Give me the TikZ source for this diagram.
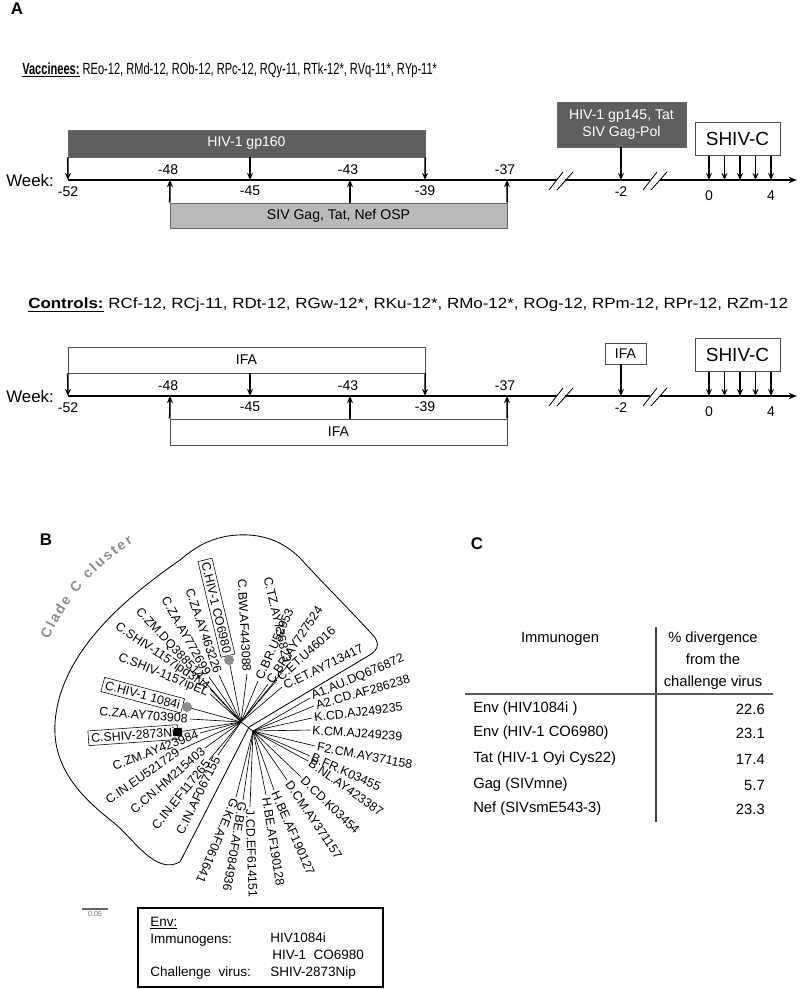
\documentclass[tikz,border=0pt]{standalone}
\usepackage{fontspec}
\setmainfont{Liberation Sans}
\usetikzlibrary{positioning,arrows.meta,calc,decorations.text}
\newlength\px
\setlength\px{0.025cm}
\definecolor{boxdark}{HTML}{5E5E5E}
\definecolor{boxlight}{HTML}{B9B9B9}
\definecolor{dotgray}{HTML}{8C8C8C}

\begin{document}
\begin{tikzpicture}[x=\px, y=-\px,
        % Style for the timelines
        axisline/.style={line width=1.3pt},
        dose/.style={-{Stealth[length=5pt,width=4.2pt]}, line width=1.1pt},
        brk/.style={line width=0.6pt},
        wk/.style={font=\fontsize{10}{12}\selectfont, inner sep=0pt},
        % Style for the immunogen boxes
        darkbox/.style={draw=black!60, fill=boxdark, text=white,
            font=\fontsize{10}{12}\selectfont, inner sep=0pt, align=center},
        lightbox/.style={draw=black!60, fill=boxlight,
            font=\fontsize{10}{12}\selectfont, inner sep=0pt},
        whitebox/.style={draw=black!70, fill=white,
            font=\fontsize{10}{12}\selectfont, inner sep=0pt},
        shivbox/.style={draw=black!70, fill=white, font=\fontsize{13.5}{15}\selectfont,
            inner sep=0pt, minimum width=85*\px, minimum height=33*\px},
        % Style for the tree
        branch/.style={line width=0.45pt},
        leafL/.style={anchor=east, inner sep=1.5pt, font=\fontsize{8.8}{9}\selectfont},
        leafR/.style={anchor=west, inner sep=1.5pt, font=\fontsize{8.8}{9}\selectfont},
        tabfont/.style={font=\fontsize{10.5}{15.6}\selectfont, inner sep=0pt},
        legfont/.style={font=\fontsize{9.6}{11}\selectfont, inner sep=0pt, anchor=west},
        panel/.style={font=\fontsize{12}{14}\selectfont\bfseries, inner sep=0pt}
    ]
    \useasboundingbox (0,0) rectangle (800,989);

    % PANEL LETTERS
    \node[panel] (pA) at (17,9) {A};
    \node[panel] (pB) at (46,540) {B};
    \node[panel] (pC) at (477,544) {C};

    % GROUP TITLES
    \node[anchor=west, inner sep=0pt, font=\fontsize{11.5}{13}\selectfont] (vacc) at (22,70)
        {\scalebox{0.685}[1]{\textbf{\underline{Vaccinees:}} REo-12, RMd-12, ROb-12, RPc-12, RQy-11, RTk-12*, RVq-11*, RYp-11*}};
    \node[anchor=west, inner sep=0pt, font=\fontsize{10.5}{12}\selectfont] (ctrl) at (28,305)
        {\scalebox{1.148}[1]{\textbf{\underline{Controls:}} RCf-12, RCj-11, RDt-12, RGw-12*, RKu-12*, RMo-12*, ROg-12, RPm-12, RPr-12, RZm-12}};

    % TIMELINES: AXIS, WEEKS, BREAKS, CHALLENGE
    \foreach \t/\y in {v/180, c/396} {
        \node[anchor=west, inner sep=0pt, font=\fontsize{12}{14}\selectfont] (\t week) at (6,\y) {Week:};
        \coordinate (\t52) at (68,\y);
        \coordinate (\t48) at (170,\y);
        \coordinate (\t45) at (250,\y);
        \coordinate (\t43) at (350,\y);
        \coordinate (\t39) at (425,\y);
        \coordinate (\t37) at (507,\y);
        \coordinate (\t2) at (621,\y);
        \coordinate (\t b1) at (557,\y);
        \coordinate (\t b2) at (565,\y);
        \coordinate (\t b3) at (650,\y);
        \coordinate (\t b4) at (660,\y);
        \coordinate (\t end) at (797,\y);
        \draw[axisline] (\t52) -- (\t b1);
        \draw[axisline] (\t b2) -- (\t b3);
        \draw[axisline, -{Stealth[length=6pt,width=4.5pt]}] (\t b4) -- (\t end);
        % break marks
        \draw[brk] ($(\t b1)+(-8,10)$) -- ($(\t b1)+(6,-8)$);
        \draw[brk] ($(\t b1)+(0,10)$) -- ($(\t b1)+(16,-8)$);
        \draw[brk] ($(\t b3)+(-7,10)$) -- ($(\t b3)+(7,-8)$);
        \draw[brk] ($(\t b3)+(1,10)$) -- ($(\t b3)+(17,-8)$);
        % week labels
        \node[wk] (\t l52) at ($(\t52)+(0,12)$) {-52};
        \node[wk] (\t l45) at ($(\t45)+(0,11)$) {-45};
        \node[wk] (\t l39) at ($(\t39)+(0,11)$) {-39};
        \node[wk] (\t l48) at ($(\t48)+(-2,-10)$) {-48};
        \node[wk] (\t l43) at ($(\t43)+(-2,-10)$) {-43};
        \node[wk] (\t l37) at ($(\t37)+(-2,-10)$) {-37};
        \node[wk] (\t l2) at ($(\t2)+(0,12)$) {-2};
        % SHIV-C challenge
        \node[shivbox] (\t shiv) at (737.5,\y-41) {SHIV-C};
        \foreach \k/\xx in {0/709, 1/724.5, 2/740, 3/755.5, 4/771} {
            \coordinate (\t c\k) at (\xx,\y);
            \draw[dose] (\t shiv.south -| \t c\k) -- (\t c\k);
        }
        \node[wk] (\t l0) at ($(\t c0)+(0,16)$) {0};
        \node[wk] (\t l4) at ($(\t c4)+(0,16)$) {4};
    }

    % VACCINEES: IMMUNOGENS
    \node[darkbox, minimum width=357*\px, minimum height=27*\px] (gp160) at (246.5,143.5) {HIV-1 gp160};
    \node[lightbox, minimum width=337*\px, minimum height=25*\px] (siv) at (338.5,215.5) {SIV Gag, Tat, Nef OSP};
    \node[darkbox, minimum width=129*\px, minimum height=45*\px] (gp145) at (621.5,124.5) {HIV-1 gp145, Tat\\SIV Gag-Pol};
    \draw[dose] (gp160.south west) -- (v52);
    \draw[dose] (gp160.south -| v45) -- (v45);
    \draw[dose] (gp160.south east) -- (v39);
    \draw[dose] (siv.north west) -- (v48);
    \draw[dose] (siv.north -| v43) -- (v43);
    \draw[dose] (siv.north east) -- (v37);
    \draw[dose] (gp145.south -| v2) -- (v2);

    % CONTROLS: ADJUVANT ONLY
    \node[whitebox, minimum width=357*\px, minimum height=26*\px] (ifa1) at (246.5,360) {IFA};
    \node[whitebox, minimum width=337*\px, minimum height=26*\px] (ifa2) at (338.5,432) {IFA};
    \node[whitebox, minimum width=41*\px, minimum height=21*\px] (ifa3) at (625.5,353.5) {IFA};
    \draw[dose] (ifa1.south west) -- (c52);
    \draw[dose] (ifa1.south -| c45) -- (c45);
    \draw[dose] (ifa1.south east) -- (c39);
    \draw[dose] (ifa2.north west) -- (c48);
    \draw[dose] (ifa2.north -| c43) -- (c43);
    \draw[dose] (ifa2.north east) -- (c37);
    \draw[dose] (ifa3.south -| c2) -- (c2);

    % PANEL B: PHYLOGENETIC TREE
    \coordinate (hubL) at (241,722);
    \coordinate (hubR) at (253,731);
    \draw[branch] (hubL) -- (hubR);
    % clade C cluster outline
    \draw[line width=0.6pt] (249,727) -- (368,656)
        .. controls (381,649) and (379,641) .. (371,633)
        .. controls (345,605) and (320,580) .. (300,558)
        .. controls (280,538) and (255,532) .. (228,536)
        .. controls (205,540) and (192,550) .. (180,560)
        .. controls (130,595) and (60,650) .. (55,723)
        .. controls (52,770) and (85,800) .. (113,822)
        .. controls (135,840) and (155,875) .. (180,862) -- cycle;
    \path[decorate, decoration={text along path, text align=fit to path,
        text={|\fontsize{10}{10}\selectfont\bfseries\color{black!45}|Clade C cluster}}]
        (49,640) arc[start angle=-157, end angle=-121, radius=208];
    % clade C leaves, read towards the centre
    \foreach \n/\tx/\ty/\r/\lab in {
        za46/219/675/-71/C.ZA.AY463226,
        za77/209/677/-61/C.ZA.AY772699,
        zmdq/203/680/-47/C.ZM.DQ388514,
        s3n/210/689/-34/C.SHIV-1157ipd3N4,
        sel/210/694/-22/C.SHIV-1157ipEL,
        za70/190/719/-5/C.ZA.AY703908,
        zm42/200/733/21/C.ZM.AY423984,
        ineu/180/750/35/C.IN.EU521729,
        cnhm/205/748/41/C.CN.HM215403,
        inef/209/760/51/C.IN.EF117265,
        inaf/218/755/64/C.IN.AF067155,
        bw/247/674/-87/C.BW.AF443088,
        tz/288/665/-77/C.TZ.AY736823} {
        \coordinate (t\n) at (\tx,\ty);
        \draw[branch] (hubL) -- (t\n);
        \node[leafL, rotate=\r] (l\n) at (t\n) {\lab};
    }
    % clade C leaves, read outwards
    \foreach \n/\tx/\ty/\r/\lab in {
        bru/258/681/66/C.BR.U52953,
        bray/268/684/56/C.BR.AY727524,
        etu/277/680/42/C.ET.U46016,
        etay/282/687/26/C.ET.AY713417} {
        \coordinate (t\n) at (\tx,\ty);
        \draw[branch] (hubL) -- (t\n);
        \node[leafR, rotate=\r] (l\n) at (t\n) {\lab};
    }
    % other clades
    \foreach \n/\tx/\ty/\r/\lab in {
        aau/310/698/23/A1.AU.DQ676872,
        acd/314/706/16/A2.CD.AF286238,
        kcd/312/718/7/K.CD.AJ249235,
        kcm/310/730/-4/K.CM.AJ249239,
        fcm/315/746/-11/F2.CM.AY371158,
        bfr/310/756/-24/B.FR.K03455,
        bnl/308/761/-35/B.NL.AY423387,
        dcd/301/777/-44/D.CD.K03454,
        dcm/287/780/-56/D.CM.AY371157,
        hbe/274/790/-66/H.BE.AF190127,
        hbf/266/795/-81/H.BE.AF190128,
        jcd/250/807/-88/J.CD.EF614151,
        gbe/243/800/-100/G.BE.AF084936,
        gke/236/797/-113/G.KE.AF061641} {
        \coordinate (t\n) at (\tx,\ty);
        \draw[branch] (hubR) -- (t\n);
        \node[leafR, rotate=\r] (l\n) at (t\n) {\lab};
    }
    % immunogens (grey dots) and challenge virus (black square)
    \coordinate (tco) at (229,660);
    \coordinate (thiv) at (187,707);
    \coordinate (tshiv) at (178,732);
    \draw[branch] (hubL) -- (tco);
    \draw[branch] (hubL) -- (thiv);
    \draw[branch] (hubL) -- (tshiv);
    \node[leafL, draw, rotate=-76.5, inner sep=2pt, xshift=-3pt] (lco) at (tco) {C.HIV-1 CO6980};
    \node[leafL, draw, rotate=-15, inner sep=2pt, xshift=-3pt] (lhiv) at (thiv) {C.HIV-1 1084i};
    \node[leafL, draw, rotate=4, inner sep=2pt] (lshiv) at (tshiv) {C.SHIV-2873Ni};
    \fill[dotgray] (tco) circle[radius=5];
    \fill[dotgray] (thiv) circle[radius=5];
    \node[fill=black, minimum size=8*\px, inner sep=0pt, rotate=4] (sq) at (tshiv) {};

    % scale bar
    \coordinate (sb1) at (82,909);
    \coordinate (sb2) at (108,909);
    \draw[line width=0.8pt, black!60] (sb1) -- (sb2);
    \node[font=\fontsize{5}{5}\selectfont, text=black!60, inner sep=0pt] (sbl) at (95,914) {0.05};

    % legend
    \node[draw, line width=0.8pt, minimum width=245*\px, minimum height=79*\px, inner sep=0pt] (legend) at (260.5,947.5) {};
    \node[legfont] (lenv) at (150,923) {\underline{Env:}};
    \node[legfont] (limm) at (150,940) {Immunogens:};
    \node[legfont] (li1) at (270,938) {HIV1084i};
    \node[legfont] (li2) at (272,955) {HIV-1\ \ CO6980};
    \node[legfont] (lch) at (150,973) {Challenge\ \ virus:};
    \node[legfont] (lsh) at (270,973) {SHIV-2873Nip};

    % PANEL C: TABLE
    \coordinate (vtop) at (656,627);
    \coordinate (vbot) at (656,822);
    \coordinate (hl) at (465,694);
    \coordinate (hr) at (773,694);
    \draw[line width=0.8pt, black!75] (vtop) -- (vbot);
    \draw[line width=1.2pt, black!65] (hl) -- (hr);
    \node[tabfont] (himm) at (560,639) {Immunogen};
    \node[tabfont, align=center] (hdiv) at (713,661) {\% divergence\\from the\\challenge virus};
    \foreach \i/\yy/\a/\b in {1/709/Env (HIV1084i )/22.6, 2/733/Env (HIV-1 CO6980)/23.1,
        3/759/Tat (HIV-1 Oyi Cys22)/17.4, 4/785/Gag (SIVmne)/5.7, 5/809/Nef (SIVsmE543-3)/23.3} {
        \node[tabfont, anchor=west] (imm\i) at (473,\yy) {\a};
        \node[tabfont, anchor=east] (div\i) at (765,\yy) {\b};
    }
\end{tikzpicture}
\end{document}
